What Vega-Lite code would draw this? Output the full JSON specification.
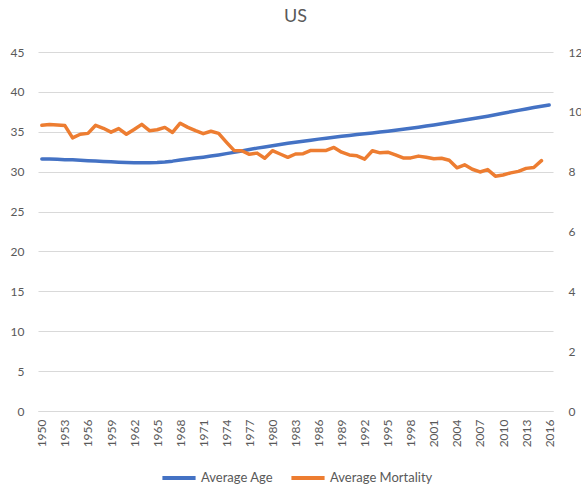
{
  "$schema": "https://vega.github.io/schema/vega-lite/v6.json",
  "width": 515,
  "height": 359,
  "autosize": {"type": "none"},
  "padding": {"left": 38, "top": 52, "right": 28, "bottom": 75},
  "background": "white",
  "config": {
    "view": {"stroke": null},
    "font": "Lato",
    "axis": {"labelColor": "#595959", "labelFontSize": 12, "labelFont": "Lato", "ticks": false, "domain": false, "gridColor": "#d9d9d9", "gridWidth": 1},
    "legend": {"labelColor": "#595959", "labelFontSize": 13, "labelFont": "Lato"}
  },
  "title": {"text": "US", "fontSize": 18, "fontWeight": "normal", "color": "#595959", "font": "Lato", "anchor": "middle", "offset": 20},
  "data": {"values": [
    {"year": 1950, "Average Age": 31.6, "Average Mortality": 9.55},
    {"year": 1951, "Average Age": 31.6, "Average Mortality": 9.58},
    {"year": 1952, "Average Age": 31.55, "Average Mortality": 9.56},
    {"year": 1953, "Average Age": 31.5, "Average Mortality": 9.54},
    {"year": 1954, "Average Age": 31.48, "Average Mortality": 9.13},
    {"year": 1955, "Average Age": 31.43, "Average Mortality": 9.25},
    {"year": 1956, "Average Age": 31.38, "Average Mortality": 9.28},
    {"year": 1957, "Average Age": 31.33, "Average Mortality": 9.55},
    {"year": 1958, "Average Age": 31.28, "Average Mortality": 9.45},
    {"year": 1959, "Average Age": 31.23, "Average Mortality": 9.32},
    {"year": 1960, "Average Age": 31.18, "Average Mortality": 9.44},
    {"year": 1961, "Average Age": 31.15, "Average Mortality": 9.25},
    {"year": 1962, "Average Age": 31.13, "Average Mortality": 9.41},
    {"year": 1963, "Average Age": 31.12, "Average Mortality": 9.58},
    {"year": 1964, "Average Age": 31.12, "Average Mortality": 9.37},
    {"year": 1965, "Average Age": 31.15, "Average Mortality": 9.4},
    {"year": 1966, "Average Age": 31.22, "Average Mortality": 9.48},
    {"year": 1967, "Average Age": 31.32, "Average Mortality": 9.31},
    {"year": 1968, "Average Age": 31.45, "Average Mortality": 9.62},
    {"year": 1969, "Average Age": 31.58, "Average Mortality": 9.48},
    {"year": 1970, "Average Age": 31.7, "Average Mortality": 9.37},
    {"year": 1971, "Average Age": 31.82, "Average Mortality": 9.27},
    {"year": 1972, "Average Age": 31.96, "Average Mortality": 9.35},
    {"year": 1973, "Average Age": 32.1, "Average Mortality": 9.28},
    {"year": 1974, "Average Age": 32.26, "Average Mortality": 8.99},
    {"year": 1975, "Average Age": 32.42, "Average Mortality": 8.71},
    {"year": 1976, "Average Age": 32.6, "Average Mortality": 8.7},
    {"year": 1977, "Average Age": 32.78, "Average Mortality": 8.58},
    {"year": 1978, "Average Age": 32.95, "Average Mortality": 8.62},
    {"year": 1979, "Average Age": 33.1, "Average Mortality": 8.45},
    {"year": 1980, "Average Age": 33.25, "Average Mortality": 8.7},
    {"year": 1981, "Average Age": 33.4, "Average Mortality": 8.59},
    {"year": 1982, "Average Age": 33.55, "Average Mortality": 8.48},
    {"year": 1983, "Average Age": 33.68, "Average Mortality": 8.59},
    {"year": 1984, "Average Age": 33.82, "Average Mortality": 8.6},
    {"year": 1985, "Average Age": 33.95, "Average Mortality": 8.71},
    {"year": 1986, "Average Age": 34.08, "Average Mortality": 8.71},
    {"year": 1987, "Average Age": 34.2, "Average Mortality": 8.71},
    {"year": 1988, "Average Age": 34.32, "Average Mortality": 8.81},
    {"year": 1989, "Average Age": 34.43, "Average Mortality": 8.65},
    {"year": 1990, "Average Age": 34.53, "Average Mortality": 8.56},
    {"year": 1991, "Average Age": 34.65, "Average Mortality": 8.53},
    {"year": 1992, "Average Age": 34.75, "Average Mortality": 8.42},
    {"year": 1993, "Average Age": 34.86, "Average Mortality": 8.7},
    {"year": 1994, "Average Age": 34.97, "Average Mortality": 8.63},
    {"year": 1995, "Average Age": 35.08, "Average Mortality": 8.65},
    {"year": 1996, "Average Age": 35.19, "Average Mortality": 8.56},
    {"year": 1997, "Average Age": 35.31, "Average Mortality": 8.46},
    {"year": 1998, "Average Age": 35.45, "Average Mortality": 8.46},
    {"year": 1999, "Average Age": 35.58, "Average Mortality": 8.52},
    {"year": 2000, "Average Age": 35.72, "Average Mortality": 8.48},
    {"year": 2001, "Average Age": 35.86, "Average Mortality": 8.43},
    {"year": 2002, "Average Age": 36.0, "Average Mortality": 8.45},
    {"year": 2003, "Average Age": 36.15, "Average Mortality": 8.38},
    {"year": 2004, "Average Age": 36.32, "Average Mortality": 8.13},
    {"year": 2005, "Average Age": 36.48, "Average Mortality": 8.23},
    {"year": 2006, "Average Age": 36.63, "Average Mortality": 8.08},
    {"year": 2007, "Average Age": 36.78, "Average Mortality": 7.99},
    {"year": 2008, "Average Age": 36.95, "Average Mortality": 8.07},
    {"year": 2009, "Average Age": 37.13, "Average Mortality": 7.85},
    {"year": 2010, "Average Age": 37.32, "Average Mortality": 7.89},
    {"year": 2011, "Average Age": 37.5, "Average Mortality": 7.96},
    {"year": 2012, "Average Age": 37.68, "Average Mortality": 8.01},
    {"year": 2013, "Average Age": 37.86, "Average Mortality": 8.11},
    {"year": 2014, "Average Age": 38.04, "Average Mortality": 8.14},
    {"year": 2015, "Average Age": 38.2, "Average Mortality": 8.37},
    {"year": 2016, "Average Age": 38.36, "Average Mortality": null}
  ]},
  "encoding": {
    "x": {
      "field": "year", "type": "ordinal",
      "scale": {"type": "point", "padding": 0.5},
      "axis": {"title": null, "labelAngle": -90, "labelAlign": "right", "labelBaseline": "middle", "labelPadding": 8, "grid": false, "domain": true, "domainColor": "#d9d9d9",
        "values": [1950, 1953, 1956, 1959, 1962, 1965, 1968, 1971, 1974, 1977, 1980, 1983, 1986, 1989, 1992, 1995, 1998, 2001, 2004, 2007, 2010, 2013, 2016]}
    },
    "color": {
      "field": "series", "type": "nominal",
      "scale": {"domain": ["Average Age", "Average Mortality"], "range": ["#4472C4", "#ED7D31"]},
      "legend": {"title": null, "orient": "none", "direction": "horizontal", "legendX": 122, "legendY": 407, "symbolType": "stroke", "symbolSize": 1100, "symbolStrokeWidth": 4, "columnPadding": 10, "labelOffset": 3}
    }
  },
  "layer": [
    {
      "transform": [{"fold": ["Average Age"], "as": ["series", "value"]}],
      "mark": {"type": "line", "strokeWidth": 3.5, "strokeCap": "round", "strokeJoin": "round"},
      "encoding": {
        "y": {"field": "value", "type": "quantitative", "scale": {"domain": [0, 45], "nice": false}, "axis": {"title": null, "values": [0, 5, 10, 15, 20, 25, 30, 35, 40, 45], "labelPadding": 14, "grid": true}}
      }
    },
    {
      "transform": [{"fold": ["Average Mortality"], "as": ["series", "value"]}, {"filter": "isValid(datum.value)"}],
      "mark": {"type": "line", "strokeWidth": 3.5, "strokeCap": "round", "strokeJoin": "round"},
      "encoding": {
        "y": {"field": "value", "type": "quantitative", "scale": {"domain": [0, 12], "nice": false}, "axis": {"title": null, "orient": "right", "values": [0, 2, 4, 6, 8, 10, 12], "labelPadding": 15, "grid": false}}
      }
    }
  ],
  "resolve": {"scale": {"y": "independent"}}
}
